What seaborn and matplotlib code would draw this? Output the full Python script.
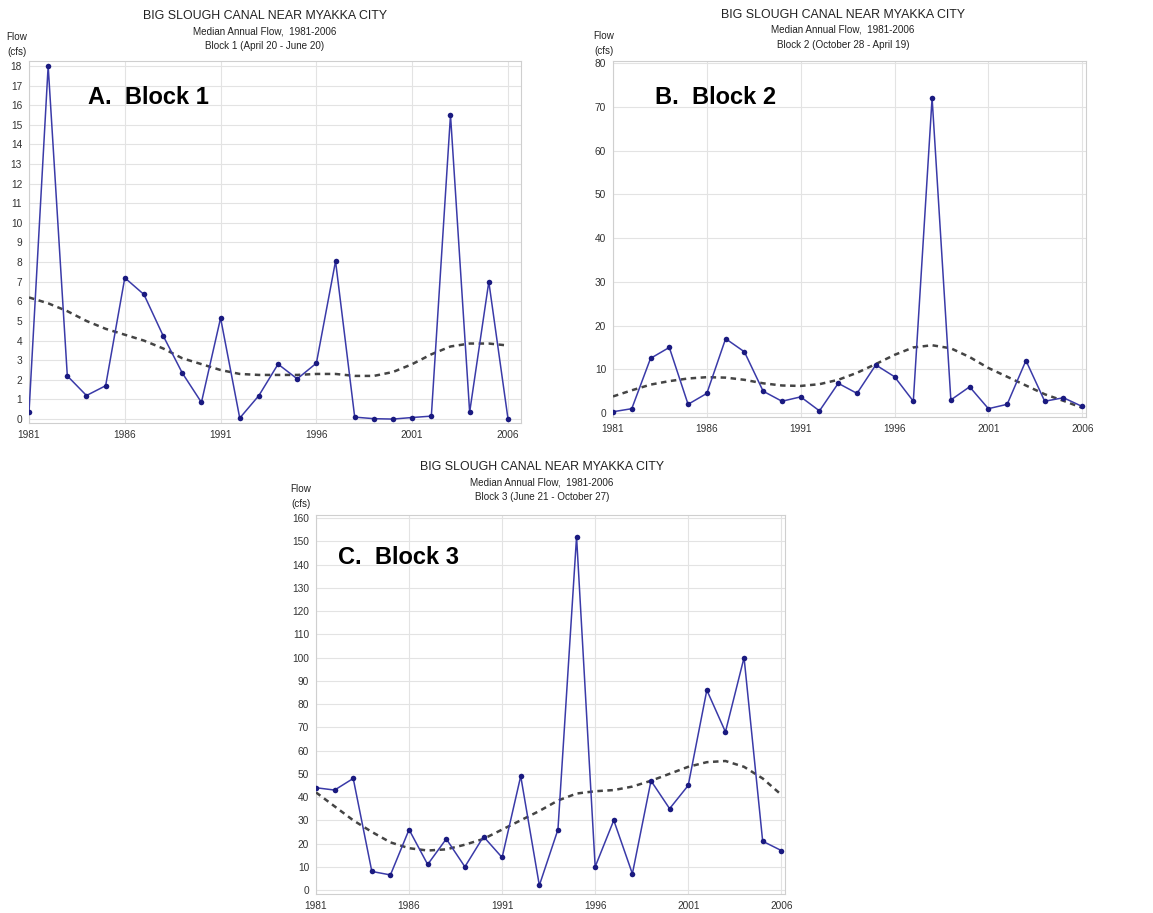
import matplotlib
matplotlib.use('Agg')
import matplotlib.pyplot as plt
import seaborn as sns
from matplotlib.ticker import MultipleLocator

sns.set_style('white')
plt.rcParams['font.family'] = ['Liberation Sans', 'DejaVu Sans']

# Data
years = list(range(1981, 2007))

block1 = [0.35, 18.0, 2.2, 1.2, 1.7, 7.2, 6.35, 4.25, 2.35, 0.85, 5.15, 0.05, 1.2,
          2.8, 2.05, 2.85, 8.05, 0.1, 0.02, 0.0, 0.08, 0.15, 15.5, 0.35, 7.0, 0.02]
trend1 = [6.2, 5.9, 5.5, 5.0, 4.6, 4.3, 4.0, 3.6, 3.1, 2.8, 2.5, 2.3, 2.25,
          2.25, 2.25, 2.3, 2.3, 2.2, 2.2, 2.4, 2.8, 3.3, 3.7, 3.85, 3.85, 3.75]

block2 = [0.3, 1.0, 12.5, 15.0, 2.0, 4.5, 17.0, 14.0, 5.0, 2.7, 3.7, 0.5, 6.8,
          4.5, 11.0, 8.3, 2.7, 72.0, 3.0, 6.0, 1.0, 2.0, 12.0, 2.7, 3.5, 1.5]
trend2 = [3.8, 5.2, 6.5, 7.3, 7.9, 8.2, 8.1, 7.6, 6.8, 6.3, 6.2, 6.6, 7.6,
          9.2, 11.2, 13.3, 15.0, 15.5, 14.8, 12.8, 10.3, 8.3, 6.3, 4.3, 2.8, 1.2]

block3 = [44, 43, 48, 8, 6.5, 26, 11, 22, 10, 23, 14, 49, 2,
          26, 152, 10, 30, 7, 47, 35, 45, 86, 68, 100, 21, 17]
trend3 = [42, 36, 30, 25, 20.5, 18, 17, 17.5, 19.5, 22, 26, 30, 34,
          38.5, 41.5, 42.5, 43, 44.5, 47, 50, 53, 55, 55.5, 53, 48, 41]

title = 'BIG SLOUGH CANAL NEAR MYAKKA CITY'
subtitle = 'Median Annual Flow,  1981-2006'
block_names = ['Block 1 (April 20 - June 20)',
               'Block 2 (October 28 - April 19)',
               'Block 3 (June 21 - October 27)']
panel_labels = ['A.  Block 1', 'B.  Block 2', 'C.  Block 3']

W, H = 1153, 913
fig = plt.figure(figsize=(W / 100, H / 100), dpi=100)
fig.patch.set_facecolor('white')


def px_axes(left, top, right, bottom):
    return fig.add_axes([left / W, 1 - bottom / H, (right - left) / W, (bottom - top) / H])


def ftext(x, y, s, **kw):
    fig.text(x / W, 1 - y / H, s, **kw)


def draw_panel(ax, vals, trend, ylim, ystep, xmax):
    sns.lineplot(x=years, y=trend, ax=ax, color='#444444', lw=1.8,
                 linestyle=(0, (2.2, 1.8)), zorder=3)
    sns.lineplot(x=years, y=vals, ax=ax, color='#3a3aa8', lw=1.1, marker='o',
                 markersize=4, markerfacecolor='#1a1a80', markeredgewidth=0, zorder=4)
    ax.set_xlim(1981, xmax)
    ax.set_ylim(*ylim)
    ax.xaxis.set_minor_locator(MultipleLocator(1))
    ax.yaxis.set_major_locator(MultipleLocator(ystep))
    ax.yaxis.set_minor_locator(MultipleLocator(ystep / 5))
    ax.set_xticks(range(1981, 2007, 5))
    ax.grid(True, which='major', color='#e3e3e3', lw=0.8)
    ax.tick_params(axis='both', which='major', labelsize=7.3, colors='#333333',
                   length=3, width=0.6, color='#bbbbbb', pad=2)
    ax.tick_params(axis='both', which='minor', length=2, width=0.5, color='#c4c4c4')
    for s in ax.spines.values():
        s.set_color('#cfcfcf')
        s.set_linewidth(0.8)
    ax.set_xlabel('')
    ax.set_ylabel('')


# Panel A
axA = px_axes(29, 61, 521, 423)
draw_panel(axA, block1, trend1, (-0.2, 18.25), 1, 2006.68)
# Panel B
axB = px_axes(613, 61, 1086, 417)
draw_panel(axB, block2, trend2, (-0.9, 80.46), 10, 2006.2)
# Panel C
axC = px_axes(316, 515, 785, 894)
draw_panel(axC, block3, trend3, (-1.7, 161.3), 10, 2006.2)

# Titles and labels
heads = [(265, 16, 17, 37), (843, 15, 604, 36), (542, 467, 301, 489)]
for (cx, ty, fx, fy), bname in zip(heads, block_names):
    ftext(cx, ty, title, ha='center', va='center', fontsize=8.9, color='#222222')
    ftext(cx, ty + 15, subtitle, ha='center', va='center', fontsize=7.1, color='#222222')
    ftext(cx, ty + 30, bname, ha='center', va='center', fontsize=7.1, color='#222222')
    ftext(fx, fy, 'Flow', ha='center', va='center', fontsize=7.1, color='#222222')
    ftext(fx, fy + 15, '(cfs)', ha='center', va='center', fontsize=7.1, color='#222222')

for (lx, ly), lab in zip([(88, 97), (655, 97), (338, 557)], panel_labels):
    ftext(lx, ly, lab, ha='left', va='center', fontsize=17, fontweight='bold', color='black')

fig.savefig('out.png', dpi=100)
